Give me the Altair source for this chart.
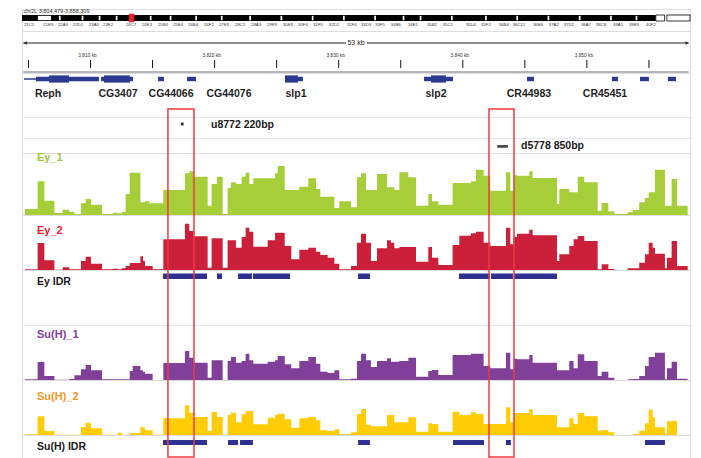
import altair as alt
import pandas as pd

FONT = "Liberation Sans"
REGION_START = 3804.479
REGION_END = 3858.309
CHR_LEN_MB = 23.5137
W = 668

# ---------------- ideogram (chr2L, Mb) ----------------
ideo_white_start = [0.56, 1.30, 2.10, 2.70, 3.30, 4.50, 5.20, 6.10, 7.00, 8.00, 9.10, 10.20, 11.30, 12.40, 13.40, 14.00, 15.10, 16.30, 17.40, 18.50, 19.60, 20.70, 21.60]
ideo_white_end   = [1.02, 1.36, 2.16, 2.76, 3.36, 4.56, 5.26, 6.16, 7.06, 8.06, 9.16, 10.26, 11.36, 12.46, 13.46, 14.06, 15.16, 16.36, 17.46, 18.56, 19.66, 20.76, 21.66]
band_names = ["21C1", "21E3", "22A3", "22D1", "23A3", "23E2", "24C7", "24E3", "25B4", "25E4",
              "26B4", "26F2", "27E3", "28C2", "28A3", "29F3", "30E3", "30F4", "31F5", "32D2",
              "32F4", "33D3", "33F5", "34B6", "34E1", "35B2", "35C1", "35D4", "35F2", "36B4",
              "36C11", "36E6", "37A2", "37D2", "38A7", "38C8", "39A1", "39E3", "40F2"]
band_pos_mb = [0.25, 0.92, 1.44, 1.97, 2.53, 3.03, 3.84, 4.40, 4.96, 5.49,
               6.02, 6.58, 7.11, 7.67, 8.24, 8.80, 9.36, 9.89, 10.42, 10.98,
               11.61, 12.11, 12.60, 13.16, 13.76, 14.43, 14.99, 15.80, 16.33, 16.96,
               17.49, 18.16, 18.72, 19.25, 19.85, 20.38, 20.98, 21.54, 22.14]
ideo_black_end = 22.31
ideo_het_start = [22.31, 22.70]
ideo_het_end = [22.62, CHR_LEN_MB]
view_mb = [3.77, 3.94]

# ---------------- ruler ----------------
tick_kb = [3805, 3810, 3815, 3820, 3825, 3830, 3835, 3840, 3845, 3850, 3855]
label_kb = [3810, 3820, 3830, 3840, 3850]
label_txt = ["3,810 kb", "3,820 kb", "3,830 kb", "3,840 kb", "3,850 kb"]

# ---------------- genes (offsets in kb from region start) ----------------
part_start = [0.16, 1.13, 2.18, 3.79, 6.37, 6.61, 8.70, 10.96, 13.30, 21.19, 22.24, 32.39, 32.96, 34.17, 40.69, 47.54, 49.80, 52.05]
part_end   = [6.20, 2.18, 3.79, 6.20, 6.61, 8.70, 8.94, 11.44, 14.02, 22.24, 22.64, 32.96, 34.17, 34.73, 41.26, 48.03, 50.52, 52.70]
part_kind  = ["line", "mid", "thick", "mid", "mid", "thick", "mid", "mid", "mid", "thick", "mid", "mid", "thick", "mid", "mid", "mid", "mid", "mid"]
gene_names = ["Reph", "CG3407", "CG44066", "CG44076", "slp1", "slp2", "CR44983", "CR45451"]
gene_label_pos = [2.10, 7.74, 12.01, 16.68, 22.08, 33.36, 40.85, 46.98]
label_box_start = [1.93, 20.71, 31.99, 46.41]
label_box_end = [4.51, 23.45, 35.29, 53.26]

# ---------------- deletions ----------------
del_start = [12.80]
del_end = [13.02]
del_label = ["u8772 220bp"]
del2_start = [38.30]
del2_end = [39.15]
del2_label = ["d5778 850bp"]

# ---------------- signal tracks ----------------
bin_edges = [0.24, 1.26, 1.80, 2.61, 3.28, 3.81, 4.22, 4.75, 5.13, 5.56,
             6.45, 7.31, 7.71, 8.03, 8.35, 8.68, 8.92, 9.54, 9.75, 9.91,
             10.26, 10.53, 11.39, 13.13, 13.48, 13.83, 14.96, 15.28, 15.71, 16.17,
             16.57, 16.84, 17.24, 17.70, 18.02, 18.32, 18.64, 19.80, 20.39, 20.60,
             21.17, 21.70, 22.35, 23.07, 23.69, 24.04, 24.63, 25.17, 25.57,
             26.51, 26.99, 27.32, 27.72, 28.12, 28.61, 29.41, 29.73, 30.00, 30.41,
             31.13, 31.75, 32.74, 33.04, 33.55, 34.70, 35.24, 36.18, 36.58, 37.20,
             37.74, 39.00, 39.35, 39.62, 39.89, 40.88, 41.15, 43.11, 43.30, 44.10,
             44.45, 44.78, 45.31, 46.39, 46.71, 47.25, 47.73, 48.80, 49.21, 49.74,
             50.20, 50.50, 50.82, 51.01, 51.81, 51.97, 52.35, 52.78, 53.64]

ey1 = [18, 101, 43, 6, 16, 10, 3, 35, 48, 31,
       3, 7, 5, 9, 63, 127, 127, 38, 38, 41,
       35, 35, 75, 125, 131, 115, 28, 93, 115, 3,
       81, 98, 93, 115, 127, 93, 110, 110, 125, 147,
       75, 75, 85, 110, 78, 55, 55, 21, 41,
       23, 113, 125, 75, 75, 123, 83, 83, 75, 128,
       113, 28, 63, 41, 31, 96, 96, 101, 136, 118,
       73, 128, 73, 120, 118, 131, 111, 33, 78, 68,
       68, 115, 98, 13, 36, 11, 3, 8, 15, 38,
       51, 68, 68, 136, 28, 28, 108, 28]
ey2 = [2, 81, 29, 1, 8, 2, 2, 27, 40, 19,
       2, 4, 2, 5, 12, 21, 21, 41, 27, 12,
       12, 2, 92, 139, 117, 101, 7, 95, 95, 7,
       89, 89, 67, 99, 127, 115, 70, 89, 112, 112,
       72, 32, 61, 67, 55, 45, 37, 19, 2,
       12, 82, 109, 82, 27, 65, 89, 82, 65, 69,
       69, 25, 69, 37, 15, 75, 103, 110, 115, 82,
       72, 127, 77, 99, 109, 121, 104, 27, 47, 72,
       92, 102, 87, 2, 17, 3, 0, 5, 5, 22,
       47, 82, 67, 49, 5, 37, 87, 12]
su1 = [2, 54, 12, 1, 1, 3, 14, 32, 45, 29,
       2, 2, 2, 2, 2, 27, 42, 29, 25, 19,
       19, 0, 51, 87, 67, 52, 7, 59, 59, 0,
       57, 69, 52, 57, 79, 59, 49, 55, 59, 72,
       47, 35, 57, 69, 49, 25, 21, 29, 2,
       4, 57, 79, 59, 39, 57, 65, 55, 55, 57,
       67, 10, 27, 30, 15, 75, 75, 79, 79, 42,
       35, 82, 32, 64, 62, 75, 52, 29, 29, 57,
       35, 77, 57, 12, 25, 7, 0, 2, 3, 12,
       42, 69, 69, 82, 2, 35, 55, 4]
su2 = [2, 56, 12, 1, 1, 1, 1, 24, 37, 20,
       1, 1, 7, 1, 1, 6, 6, 25, 22, 14,
       14, 1, 50, 89, 67, 54, 12, 69, 54, 1,
       60, 67, 38, 62, 72, 72, 32, 52, 60, 64,
       47, 22, 50, 54, 44, 14, 12, 17, 2,
       8, 63, 78, 31, 26, 26, 60, 60, 38, 38,
       53, 10, 35, 33, 10, 70, 60, 68, 63, 33,
       33, 83, 38, 66, 66, 78, 60, 23, 23, 50,
       33, 66, 56, 13, 15, 8, 0, 0, 3, 13,
       35, 76, 53, 23, 3, 41, 43, 0]

ey_idr_start = [11.36, 15.71, 17.41, 18.61, 27.08, 35.21, 37.79, 39.65]
ey_idr_end = [14.91, 16.12, 18.53, 21.60, 28.04, 37.71, 39.56, 43.11]
suh_idr_start = [11.36, 16.60, 17.57, 27.08, 34.73, 39.00, 50.20]
suh_idr_end = [14.91, 17.41, 18.61, 28.04, 37.23, 39.40, 51.81]

box_start = [11.76, 37.63]
box_end = [13.86, 39.65]

LABEL_OFF = 1.21

# ======================================================================
def kb(offsets):
    return [REGION_START + o for o in offsets]

XS = alt.Scale(domain=[REGION_START, REGION_END], nice=False, zero=False)


def X(f="s"):
    return alt.X(f"{f}:Q", scale=XS, axis=None)


def text_layer(pos, texts, y, size=11, color="#1a1a1a", align="left", weight="bold", dx=0, baseline="middle"):
    d = pd.DataFrame({"s": pos, "t": texts})
    return alt.Chart(d).mark_text(align=align, baseline=baseline, fontSize=size, font=FONT,
                                  fontWeight=weight, color=color, dx=dx).encode(
        x=X(), y=alt.value(y), text="t:N")


def bars_layer(starts, ends, y, y2, color):
    d = pd.DataFrame({"s": kb(starts), "e": kb(ends)})
    return alt.Chart(d).mark_rect(color=color).encode(
        x=X(), x2="e:Q", y=alt.value(y), y2=alt.value(y2))


def separator(y=0.5):
    d = pd.DataFrame({"s": [REGION_START], "e": [REGION_END]})
    return alt.Chart(d).mark_rule(color="#e3e6ee", strokeWidth=1).encode(
        x=X(), x2="e:Q", y=alt.value(y))


# ---------- panel 1: ideogram ----------
MBS = alt.Scale(domain=[0, CHR_LEN_MB], nice=False, zero=False)


def XM(f="s"):
    return alt.X(f"{f}:Q", scale=MBS, axis=None)


ideo_base = alt.Chart(pd.DataFrame({"s": [0.0], "e": [ideo_black_end]})).mark_rect(
    color="black").encode(x=XM(), x2="e:Q", y=alt.value(6), y2=alt.value(12))
ideo_w = alt.Chart(pd.DataFrame({"s": ideo_white_start, "e": ideo_white_end})).mark_rect(
    color="white").encode(x=XM(), x2="e:Q", y=alt.value(6.8), y2=alt.value(11.2))
ideo_het = alt.Chart(pd.DataFrame({"s": ideo_het_start, "e": ideo_het_end})).mark_rect(
    fill="white", stroke="black", strokeWidth=0.8).encode(x=XM(), x2="e:Q", y=alt.value(6), y2=alt.value(12))
ideo_view = alt.Chart(pd.DataFrame({"s": [view_mb[0]], "e": [view_mb[1]]})).mark_rect(
    fill="#e8202a", stroke="#e8202a", strokeWidth=0.6).encode(x=XM(), x2="e:Q", y=alt.value(5), y2=alt.value(13))
ideo_title = alt.Chart(pd.DataFrame({"s": [0.05], "t": ["chr2L:3,804,479-3,858,309"]})).mark_text(
    align="left", baseline="top", fontSize=5.5, font=FONT, color="#333").encode(
    x=XM(), y=alt.value(0), text="t:N")
ideo_labels = alt.Chart(pd.DataFrame({"s": band_pos_mb, "t": band_names})).mark_text(
    align="center", baseline="top", fontSize=4.3, font=FONT, color="#333").encode(
    x=XM(), y=alt.value(14), text="t:N")
p1 = alt.layer(ideo_base, ideo_w, ideo_het, ideo_view, ideo_title, ideo_labels).properties(width=W, height=22)

# ---------- panel 2: ruler ----------
gap_l, gap_r = 26.11, 27.80
scale_line = alt.Chart(pd.DataFrame({"s": kb([0.10, gap_r]), "e": kb([gap_l, 53.72])})).mark_rule(
    color="#222", strokeWidth=1.2).encode(x=X(), x2="e:Q", y=alt.value(12))
arrows = alt.Chart(pd.DataFrame({"s": kb([0.25, 53.60]), "sh": ["triangle-left", "triangle-right"]})).mark_point(
    filled=True, color="#222", size=14, opacity=1).encode(
    x=X(), y=alt.value(12), shape=alt.Shape("sh:N", scale=None))
size_txt = text_layer([(REGION_START + REGION_END) / 2], ["53 kb"], 12, size=7, color="#222", align="center", weight="normal")
tick_lbl = text_layer(label_kb, label_txt, 25, size=4.8, color="#333", align="center", weight="normal", dx=-3)
ticks = alt.Chart(pd.DataFrame({"s": tick_kb})).mark_rule(color="#111", strokeWidth=1).encode(
    x=X(), y=alt.value(29), y2=alt.value(37))
gray_line = alt.Chart(pd.DataFrame({"s": kb([0.10]), "e": kb([53.72])})).mark_rule(
    color="#b4b6ba", strokeWidth=2).encode(x=X(), x2="e:Q", y=alt.value(41))
p2 = alt.layer(scale_line, arrows, size_txt, tick_lbl, ticks, gray_line).properties(width=W, height=42)

# ---------- panel 3: genes ----------
GENE_COLOR = "#2b3990"
gene_layers = [bars_layer(label_box_start, label_box_end, 30, 44, "white")]
for kind, half in [("line", 0.8), ("mid", 2.2), ("thick", 3.6)]:
    st = [s for s, k in zip(part_start, part_kind) if k == kind]
    en = [e for e, k in zip(part_end, part_kind) if k == kind]
    gene_layers.append(bars_layer(st, en, 6 - half, 6 + half, GENE_COLOR))
gene_layers.append(text_layer(kb(gene_label_pos), gene_names, 21, size=10.5, color="#1e1e1e", align="center"))
p3 = alt.layer(*gene_layers).properties(width=W, height=44)

# ---------- panel 4/5: deletions ----------
p4 = alt.layer(
    separator(),
    bars_layer(del_start, del_end, 5.5, 8.5, "#333333"),
    text_layer(kb([15.23]), del_label, 8, size=10.5),
).properties(width=W, height=21)
p5 = alt.layer(
    separator(),
    bars_layer(del2_start, del2_end, 7, 9.8, "#4a4a4a"),
    text_layer(kb([40.21]), del2_label, 8, size=10.5),
).properties(width=W, height=15)


# ---------- signal panels ----------
def signal_panel(vals, color, label, label_color, label_y, H, extra=None):
    d = pd.DataFrame({"s": kb(bin_edges), "v": vals + [vals[-1]]})
    area = alt.Chart(d).mark_area(interpolate="step-after", color=color, opacity=1).encode(
        x=X(), y=alt.Y("v:Q", scale=alt.Scale(domain=[0, 3 * H], nice=False), axis=None))
    layers = []
    if extra is not None:
        layers += extra
    layers += [area, text_layer(kb([LABEL_OFF]), [label], label_y, size=11, color=label_color)]
    return alt.layer(*layers).properties(width=W, height=H)


p6 = signal_panel(ey1, "#a6ce39", "Ey_1", "#9cc93a", 5, 62)
p7 = signal_panel(ey2, "#cc1f39", "Ey_2", "#e8202e", 16, 55)
p8 = alt.layer(
    bars_layer(ey_idr_start, ey_idr_end, 3.5, 9, "#2e3192"),
    text_layer(kb([LABEL_OFF]), ["Ey IDR"], 12, size=10.5),
).properties(width=W, height=55)
p9 = signal_panel(su1, "#80409a", "Su(H)_1", "#80409a", 10, 55, extra=[separator()])
p10 = signal_panel(su2, "#ffcc05", "Su(H)_2", "#f7961e", 17, 55)

box = alt.Chart(pd.DataFrame({"s": kb(box_start), "e": kb(box_end)})).mark_rect(
    fill="transparent", stroke="#ee3b3f", strokeWidth=1.5).encode(
    x=X(), x2="e:Q", y=alt.value(-326), y2=alt.value(22))
p11 = alt.layer(
    bars_layer(suh_idr_start, suh_idr_end, 5, 10, "#2e3192"),
    text_layer(kb([LABEL_OFF]), ["Su(H) IDR"], 12, size=10.5),
    box,
).properties(width=W, height=24)

chart = alt.vconcat(p1, p2, p3, p4, p5, p6, p7, p8, p9, p10, p11, spacing=0, bounds="flush").resolve_scale(
    x="independent", y="independent"
).properties(
    padding={"left": 13, "top": 0, "right": 0, "bottom": 0}
).configure_view(strokeWidth=0, fill="#f6f7fb").configure(background="white")

chart.save("out.html", embed_options={"renderer": "svg", "actions": False})
